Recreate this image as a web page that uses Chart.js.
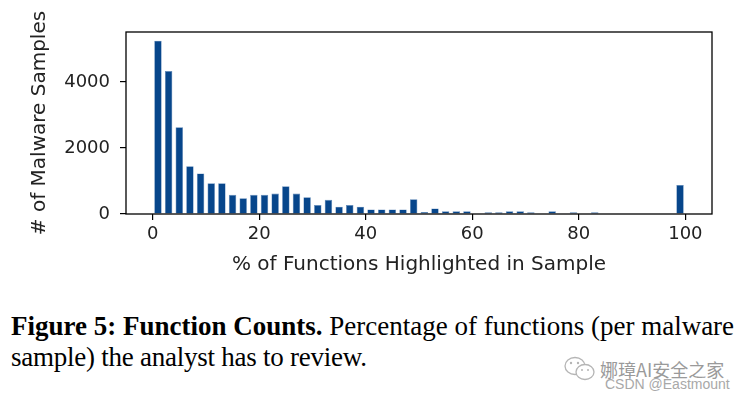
<!DOCTYPE html>
<html>
<head>
<meta charset="utf-8">
<script src="https://cdn.jsdelivr.net/npm/chart.js@4.4.0/dist/chart.umd.min.js"></script>
<style>
  html, body { margin: 0; padding: 0; background: #fff; }
  #wrap { position: relative; width: 746px; height: 399px; overflow: hidden; }
  #grafico { position: absolute; left: 0; top: 0; }
  .cap { position: absolute; left: 11px; font-family: "Liberation Serif", "Times New Roman", serif; font-size: 27px; color: #000; white-space: nowrap; }
  .wm1 { position: absolute; left: 600px; top: 356px; font-family: "Noto Sans CJK SC", sans-serif; font-size: 18px; color: #9a9a9a; white-space: nowrap; }
  .wm2 { position: absolute; left: 605px; top: 376px; font-family: "Liberation Sans", Arial, sans-serif; font-size: 14px; color: #a8a8a8; white-space: nowrap; }
  .icon { position: absolute; left: 563px; top: 355px; }
</style>
</head>
<body>
<div id="wrap">
  <canvas id="grafico" width="746" height="290"></canvas>
  <div class="cap" style="top: 311px;"><b>Figure 5: Function Counts.</b> Percentage of functions (per malware</div>
  <div class="cap" style="top: 342px; letter-spacing: -0.25px;">sample) the analyst has to review.</div>
  <svg class="icon" width="34" height="28" viewBox="0 0 34 28">
    <ellipse cx="12" cy="11" rx="10" ry="8.5" fill="none" stroke="#b5b5b5" stroke-width="1.3"/>
    <ellipse cx="22" cy="17" rx="9" ry="7.5" fill="#fff" stroke="#b5b5b5" stroke-width="1.3"/>
    <circle cx="8" cy="8" r="1.2" fill="#b5b5b5"/><circle cx="15" cy="8" r="1.2" fill="#b5b5b5"/>
    <circle cx="19" cy="15" r="1" fill="#b5b5b5"/><circle cx="25" cy="15" r="1" fill="#b5b5b5"/>
  </svg>
  <div class="wm1">娜璋AI安全之家</div>
  <div class="wm2">CSDN @Eastmount</div>
</div>
<script>
const grafico = document.getElementById("grafico");

// centros dos bins (largura 2%)
const binCenters = [1, 3, 5, 7, 9, 11, 13, 15, 17, 19, 21, 23, 25, 27, 29, 31, 33, 35, 37, 39,
    41, 43, 45, 47, 49, 51, 53, 55, 57, 59, 61, 63, 65, 67, 69, 71, 73, 75, 77, 79,
    81, 83, 85, 87, 89, 91, 93, 95, 97, 99];

// número de amostras por bin
const sampleCounts = [5250, 4330, 2630, 1450, 1230, 930, 930, 580, 480, 580,
    580, 620, 840, 620, 510, 270, 430, 220, 270, 220,
    140, 140, 140, 140, 450, 60, 170, 80, 80, 80,
    0, 50, 50, 80, 80, 50, 0, 80, 0, 50,
    0, 50, 0, 0, 0, 0, 0, 0, 0, 880];

const xTicks = [0, 20, 40, 60, 80, 100];
const yTicks = [0, 2000, 4000];

const fontTicks = { family: "DejaVu Sans", size: 18 };
const fontTitulo = { family: "DejaVu Sans", size: 20 };

// caixa em volta da área do gráfico (estilo matplotlib)
const boxPlugin = {
    id: "box",
    afterDraw(chart) {
        const { ctx, chartArea } = chart;
        ctx.save();
        ctx.strokeStyle = "#000";
        ctx.lineWidth = 1.3;
        ctx.strokeRect(chartArea.left, chartArea.top, chartArea.right - chartArea.left, chartArea.bottom - chartArea.top);
        ctx.restore();
    },
};

const options = {
    responsive: false,
    animation: false,
    layout: { padding: { left: 0, top: 32, right: 34, bottom: 0 } },
    plugins: { legend: { display: false }, tooltip: { enabled: false } },
    scales: {
        x: {
            type: "linear",
            min: -5,
            max: 105,
            offset: false,
            ticks: { stepSize: 20, color: "#222", font: fontTicks, padding: 4, maxRotation: 0,
                callback: (v) => String(v) },
            afterBuildTicks: (scale) => {
                scale.ticks = xTicks.map((v) => ({ value: v }));
            },
            afterFit: (scale) => { scale.height = 76; },
            grid: { offset: false, drawOnChartArea: false, drawTicks: true, tickLength: 6, color: "#000", lineWidth: 1.2 },
            border: { display: false },
            title: { display: true, text: "% of Functions Highlighted in Sample", color: "#222", font: fontTitulo, padding: { top: 0, bottom: 13 } },
        },
        y: {
            min: 0,
            max: 5515,
            ticks: { stepSize: 2000, color: "#222", font: fontTicks, padding: 10,
                callback: (v) => String(v) },
            afterBuildTicks: (scale) => {
                scale.ticks = yTicks.map((v) => ({ value: v }));
            },
            afterFit: (scale) => { scale.width = 126; },
            grid: { drawOnChartArea: false, drawTicks: true, tickLength: 6, color: "#000", lineWidth: 1.2 },
            border: { display: false },
            title: { display: true, text: "# of Malware Samples", color: "#222", font: fontTitulo, padding: { top: 28, bottom: 0 } },
        },
    },
};

const data = {
    datasets: [
        {
            data: binCenters.map((x, i) => ({ x: x, y: sampleCounts[i] })),
            backgroundColor: "#07468b",
            borderColor: "#5f88b8",
            borderWidth: 0.6,
            categoryPercentage: 1,
            barPercentage: 0.7,
        },
    ],
};

new Chart(grafico, {
    type: "bar",
    data: data,
    options: options,
    plugins: [boxPlugin],
});
</script>
</body>
</html>
